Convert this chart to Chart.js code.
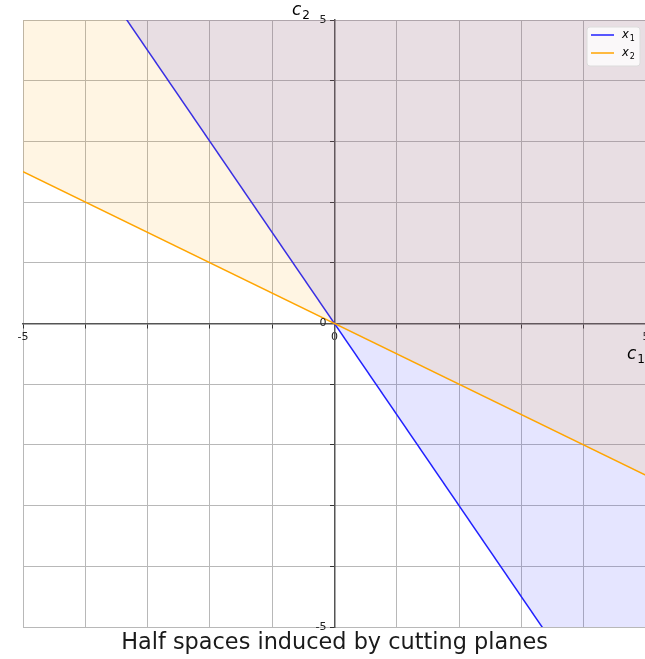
<!DOCTYPE html>
<html>
<head>
<meta charset="utf-8">
<script src="https://cdn.jsdelivr.net/npm/chart.js@4.4.1/dist/chart.umd.min.js"></script>
<style>
html,body{margin:0;padding:0;overflow:hidden;background:#fff;width:645px;height:659px;}
#c{display:block;}
</style>
</head>
<body>
<canvas id="c" width="669" height="659" style="width:669px;height:659px;"></canvas>
<script>
// ---- data ----
const c1Values = [-5, 5];
const x1Line = [7.5, -7.5];   // c2 on boundary of x1 half space
const x2Line = [2.5, -2.5];   // c2 on boundary of x2 half space
const seriesNames = ['x1', 'x2'];
const shownTicks = [-5, 0, 5];
const titleText = 'Half spaces induced by cutting planes';

const toPts = (ys) => c1Values.map((x, i) => ({x: x, y: ys[i]}));

const FONT = "'DejaVu Sans', sans-serif";

function subText(ctx, base, sub, x, y, size) {
  ctx.save();
  ctx.textBaseline = 'alphabetic';
  ctx.textAlign = 'left';
  ctx.fillStyle = '#000';
  ctx.font = 'italic ' + size + 'px ' + FONT;
  const w1 = ctx.measureText(base).width;
  ctx.fillText(base, x, y);
  ctx.font = Math.round(size * 0.7) + 'px ' + FONT;
  ctx.fillText(sub, x + w1 + 1, y + size * 0.22);
  ctx.restore();
}

const overlay = {
  id: 'overlay',
  afterDraw(chart) {
    const ctx = chart.ctx;
    // y tick labels (left of the centred axis)
    const ys = chart.scales.y, xs = chart.scales.x;
    const axisX = xs.getPixelForValue(0);
    ctx.save();
    ctx.font = '11px ' + FONT;
    ctx.fillStyle = '#222';
    ctx.textAlign = 'right';
    ctx.textBaseline = 'middle';
    shownTicks.forEach((v) => ctx.fillText(String(v), axisX - 8, ys.getPixelForValue(v)));
    ctx.restore();
    // axis labels
    subText(ctx, 'c', '2', 292, 15, 17);
    subText(ctx, 'c', '1', 627, 359, 17);
    // legend
    ctx.save();
    const bx = 587, by = 27, bw = 53, bh = 39, r = 3;
    ctx.beginPath();
    ctx.moveTo(bx + r, by);
    ctx.arcTo(bx + bw, by, bx + bw, by + bh, r);
    ctx.arcTo(bx + bw, by + bh, bx, by + bh, r);
    ctx.arcTo(bx, by + bh, bx, by, r);
    ctx.arcTo(bx, by, bx + bw, by, r);
    ctx.closePath();
    ctx.fillStyle = 'rgba(255,255,255,0.8)';
    ctx.fill();
    ctx.strokeStyle = '#dcdcdc';
    ctx.lineWidth = 1;
    ctx.stroke();
    const ds = chart.data.datasets;
    [0, 1].forEach((i) => {
      const y = 35 + i * 18;
      ctx.strokeStyle = ds[i].borderColor;
      ctx.lineWidth = 1.5;
      ctx.beginPath();
      ctx.moveTo(591, y);
      ctx.lineTo(614, y);
      ctx.stroke();
      subText(ctx, seriesNames[i].charAt(0), seriesNames[i].slice(1), 622, y + 3, 11.5);
    });
    ctx.restore();
  }
};

new Chart(document.getElementById('c'), {
  type: 'scatter',
  data: {
    datasets: [
      {
        label: seriesNames[0],
        data: toPts(x1Line),
        showLine: true,
        borderColor: '#2020ff',
        borderWidth: 1.5,
        backgroundColor: 'rgba(40,40,255,0.12)',
        fill: 'end',
        pointRadius: 0,
        order: 1
      },
      {
        label: seriesNames[1],
        data: toPts(x2Line),
        showLine: true,
        borderColor: '#ffa500',
        borderWidth: 1.5,
        backgroundColor: 'rgba(255,165,0,0.11)',
        fill: 'end',
        pointRadius: 0,
        order: 0
      }
    ]
  },
  plugins: [overlay],
  options: {
    responsive: false,
    maintainAspectRatio: false,
    animation: false,
    devicePixelRatio: 1,
    layout: {padding: {left: 23, top: 20, right: 23, bottom: 0}},
    plugins: {
      legend: {display: false},
      tooltip: {enabled: false},
      title: {
        display: true,
        position: 'bottom',
        text: titleText,
        color: '#1a1a1a',
        font: {family: FONT, size: 22.4, weight: 'normal', lineHeight: 1.2},
        padding: {top: 3, bottom: 2}
      }
    },
    scales: {
      x: {
        type: 'linear',
        min: -5, max: 5,
        position: {y: 0},
        ticks: {
          stepSize: 1,
          autoSkip: false,
          maxRotation: 0,
          padding: 3,
          color: '#222',
          font: {family: FONT, size: 11},
          callback: (v) => shownTicks.includes(v) ? String(v) : ''
        },
        grid: {color: '#b8b8b8', lineWidth: 1, tickLength: 4, tickColor: '#333'},
        border: {color: '#555', width: 1.5}
      },
      y: {
        type: 'linear',
        min: -5, max: 5,
        position: {x: 0},
        ticks: {
          stepSize: 1,
          autoSkip: false,
          padding: 4,
          color: '#222',
          font: {family: FONT, size: 11},
          callback: () => ''
        },
        grid: {color: '#b8b8b8', lineWidth: 1, tickLength: 4, tickColor: '#333'},
        border: {color: '#555', width: 1.5}
      }
    }
  }
});
</script>
</body>
</html>
